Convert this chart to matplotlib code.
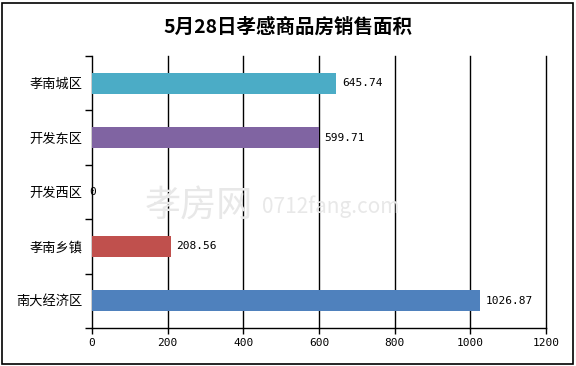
import matplotlib
matplotlib.use("Agg")
import matplotlib.pyplot as plt
from matplotlib.patches import Rectangle

plt.rcParams['font.family'] = ['Noto Sans CJK SC', 'DejaVu Sans']

categories = ["孝南城区", "开发东区", "开发西区", "孝南乡镇", "南大经济区"]
values = [645.74, 599.71, 0, 208.56, 1026.87]
labels = ["645.74", "599.71", "0", "208.56", "1026.87"]
colors = ["#4BACC6", "#8064A2", "#8064A2", "#C0504D", "#4F81BD"]
xticks = [0, 200, 400, 600, 800, 1000, 1200]
title = "5月28日孝感商品房销售面积"

fig = plt.figure(figsize=(5.76, 3.66), dpi=100)
ax = fig.add_axes([92/576, 1-328/366, (546-92)/576, (328-56)/366])

ypos = list(range(len(categories)))
ax.barh(ypos, values, height=0.39, color=colors, zorder=3)
ax.set_ylim(len(categories)-0.5, -0.5)
ax.set_xlim(0, 1200)
ax.set_xticks(xticks)
ax.set_xticklabels([str(t) for t in xticks], fontsize=8, family='DejaVu Sans Mono')
ax.set_yticks(ypos)
ax.set_yticklabels(categories, fontsize=9.5)
ax.set_yticks([i + 0.5 for i in range(-1, len(categories))], minor=True)
ax.tick_params(axis='y', which='major', length=0, pad=7)
ax.tick_params(axis='y', which='minor', length=5, width=1, color='black')
ax.tick_params(axis='x', length=4, width=1, color='black', pad=3)
for t in xticks[1:]:
    ax.axvline(t, color='black', linewidth=1, zorder=1, clip_on=False)
for s in ['top', 'right']:
    ax.spines[s].set_visible(False)
for s in ['left', 'bottom']:
    ax.spines[s].set_linewidth(1)
    ax.spines[s].set_color('black')

for y, v, lab in zip(ypos, values, labels):
    dx = 4 if v > 0 else -2
    ax.annotate(lab, xy=(v, y), xytext=(dx, 0), textcoords='offset points',
                va='center', ha='left', fontsize=8,
                family='DejaVu Sans Mono', zorder=4)

# faint watermark
ax.text(0.117, 0.45, "孝房网", transform=ax.transAxes, fontsize=26,
        color='#e8e8e8', ha='left', va='center', zorder=2)
ax.text(0.375, 0.445, "0712fang.com", transform=ax.transAxes, fontsize=15,
        color='#e8e8e8', ha='left', va='center', zorder=2)

fig.text(0.5, 1-27/366, title, fontsize=14, fontweight='bold', ha='center', va='center')
fig.patches.append(Rectangle((2/576, 2/366), 571/576, 361/366, transform=fig.transFigure,
                             fill=False, edgecolor='black', linewidth=1.2))

fig.savefig("out.png", dpi=100)
